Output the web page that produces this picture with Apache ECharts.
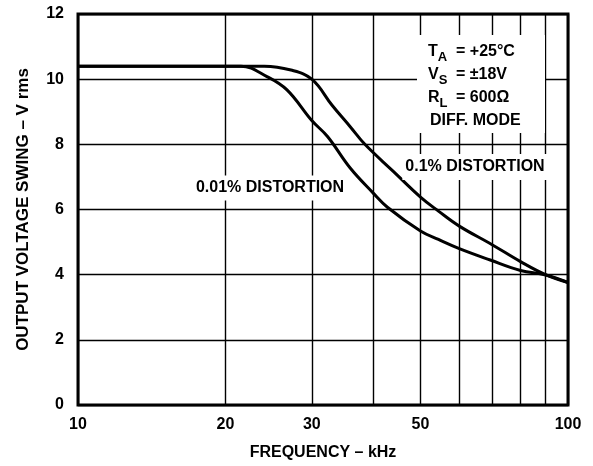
<!DOCTYPE html>
<html>
<head>
<meta charset="utf-8">
<title>Output Voltage Swing vs Frequency</title>
<script src="https://cdn.jsdelivr.net/npm/echarts@6/dist/echarts.min.js"></script>
<style>
  html, body { margin: 0; padding: 0; background: #fff; }
  #chart { width: 593px; height: 466px; }
</style>
</head>
<body>
<div id="chart"></div>
<script>
// 0.1% distortion curve (kHz, V rms)
const freqHigh = [10, 15, 20, 24, 27.2, 30, 33, 35.9, 38.5, 44, 50, 54.4, 60, 70, 80, 90, 100];
const swingHigh = [10.4, 10.4, 10.4, 10.4, 10.28, 10.0, 9.2, 8.55, 8.0, 7.17, 6.38, 5.95, 5.49, 4.92, 4.4, 4.0, 3.76];

// 0.01% distortion curve
const freqLow = [10, 15, 19, 21.5, 24.3, 26.7, 30, 32.3, 35.9, 40, 42.8, 50, 54.4, 60, 69.4, 80, 90, 100];
const swingLow = [10.4, 10.4, 10.4, 10.4, 10.08, 9.67, 8.73, 8.24, 7.28, 6.51, 6.07, 5.34, 5.08, 4.8, 4.45, 4.13, 3.99, 3.76];

// axis ticks
const xGridValues = [10, 20, 30, 40, 50, 60, 70, 80, 90, 100];
const xLabelValues = [10, 20, 30, 50, 100];

const FONT = "'Liberation Sans', Arial, Helvetica, sans-serif";

const chart = echarts.init(document.getElementById("chart"));

const toPairs = (xs, ys) => xs.map((x, i) => [x, ys[i]]);

const curveStyle = {
  type: "line",
  smooth: 0.4,
  showSymbol: false,
  lineStyle: { color: "#000", width: 3 },
  z: 5,
};

// annotation box text (label + subscript, then value column)
const condLeft = 428;
const condRows = [
  { main: "T", sub: "A", value: "= +25°C", y: 52 },
  { main: "V", sub: "S", value: "= ±18V", y: 75 },
  { main: "R", sub: "L", value: "= 600Ω", y: 98 },
];

const textBase = { fill: "#000", fontFamily: FONT, fontWeight: "bold", fontSize: 16 };

const graphics = [
  {
    type: "rect",
    shape: { x: 417, y: 35, width: 128, height: 98 },
    style: { fill: "#fff" },
    z: 10,
  },
];

condRows.forEach((r) => {
  graphics.push({
    type: "text",
    x: condLeft,
    y: r.y,
    z: 11,
    style: {
      text: `{m|${r.main}}{s|${r.sub}}`,
      verticalAlign: "middle",
      rich: {
        m: { ...textBase },
        s: { ...textBase, fontSize: 13, padding: [10, 0, 0, 0] },
      },
    },
  });
  graphics.push({
    type: "text",
    x: 456,
    y: r.y,
    z: 11,
    style: { ...textBase, text: r.value, verticalAlign: "middle" },
  });
});

graphics.push({
  type: "text",
  x: 430,
  y: 121,
  z: 11,
  style: { ...textBase, text: "DIFF. MODE", verticalAlign: "middle" },
});

graphics.push({
  type: "text",
  x: 475,
  y: 167,
  z: 11,
  style: {
    ...textBase,
    text: "0.1% DISTORTION",
    align: "center",
    verticalAlign: "middle",
    backgroundColor: "#fff",
    padding: [9, 3, 1, 3],
  },
});

graphics.push({
  type: "text",
  x: 270,
  y: 188,
  z: 11,
  style: {
    ...textBase,
    text: "0.01% DISTORTION",
    align: "center",
    verticalAlign: "middle",
    backgroundColor: "#fff",
    padding: [6, 3, 3, 3],
  },
});

const option = {
  animation: false,
  backgroundColor: "#fff",
  grid: {
    left: 78,
    top: 14,
    width: 490,
    height: 392,
    show: true,
    borderColor: "#000",
    borderWidth: 3,
    backgroundColor: "transparent",
  },
  xAxis: {
    type: "log",
    logBase: 10,
    min: 10,
    max: 100,
    name: "FREQUENCY – kHz",
    nameLocation: "middle",
    nameGap: 40,
    nameTextStyle: { color: "#000", fontFamily: FONT, fontWeight: "bold", fontSize: 16 },
    axisLine: { show: false },
    axisTick: { show: false, customValues: xGridValues },
    axisLabel: {
      customValues: xLabelValues,
      color: "#000",
      fontFamily: FONT,
      fontWeight: "bold",
      fontSize: 16,
      margin: 12,
      formatter: (v) => String(Math.round(v)),
    },
    splitLine: { show: true, lineStyle: { color: "#000", width: 1.4 } },
    minorSplitLine: { show: false },
  },
  yAxis: {
    type: "value",
    min: 0,
    max: 12,
    interval: 2,
    name: "OUTPUT VOLTAGE SWING – V rms",
    nameLocation: "middle",
    nameGap: 46,
    nameTextStyle: { color: "#000", fontFamily: FONT, fontWeight: "bold", fontSize: 17 },
    axisLine: { show: false },
    axisTick: { show: false },
    axisLabel: {
      color: "#000",
      fontFamily: FONT,
      fontWeight: "bold",
      fontSize: 16,
      margin: 14,
    },
    splitLine: { show: true, lineStyle: { color: "#000", width: 1.4 } },
  },
  graphic: graphics,
  series: [
    { ...curveStyle, name: "0.1% DISTORTION", data: toPairs(freqHigh, swingHigh) },
    { ...curveStyle, name: "0.01% DISTORTION", data: toPairs(freqLow, swingLow) },
  ],
};

chart.setOption(option);
</script>
</body>
</html>
